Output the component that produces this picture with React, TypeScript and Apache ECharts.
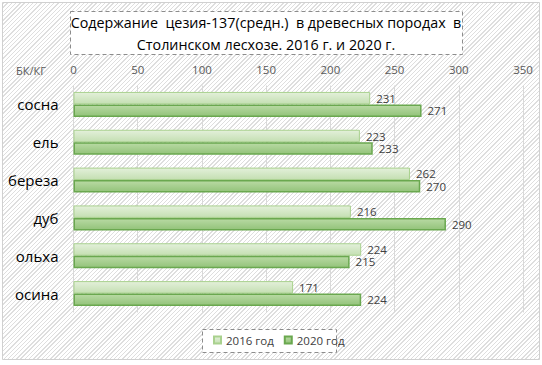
import React, { useEffect, useRef } from "react";
import * as echarts from "echarts";

const categories = ["сосна", "ель", "береза", "дуб", "ольха", "осина"];
const values2016 = [231, 223, 262, 216, 224, 171];
const values2020 = [271, 233, 270, 290, 215, 224];
const seriesNames = ["2016 год", "2020 год"];
const axisTicks = { min: 0, max: 350, interval: 50 };
const titleLines = [
  "Содержание  цезия-137(средн.)  в древесных породах  в",
  "Столинском лесхозе. 2016 г. и 2020 г.",
];
const unitLabel = "БК/КГ";

const FONT = "'Open Sans', 'DejaVu Sans', sans-serif";

export default function App() {
  const ref = useRef<HTMLDivElement>(null);
  useEffect(() => {
    if (!ref.current) return;
    const chart = echarts.init(ref.current, undefined, { renderer: "svg" });
    const lightFill = new echarts.graphic.LinearGradient(0, 0, 0, 1, [
      { offset: 0, color: "#e3f0da" },
      { offset: 1, color: "#c4dfb2" },
    ]);
    const darkFill = new echarts.graphic.LinearGradient(0, 0, 0, 1, [
      { offset: 0, color: "#b9daa4" },
      { offset: 1, color: "#93c37a" },
    ]);
    chart.setOption({
      animation: false,
      backgroundColor: "transparent",
      textStyle: { fontFamily: FONT },
      grid: { left: 73.5, right: 19, top: 85.5, bottom: 52.5, containLabel: false },
      legend: {
        data: seriesNames,
        left: 213,
        top: 334,
        padding: 0,
        icon: "rect",
        itemWidth: 7,
        itemHeight: 7,
        itemGap: 10,
        textStyle: { fontSize: 11.5, color: "#404040", fontFamily: FONT },
      },
      xAxis: {
        type: "value",
        position: "top",
        min: axisTicks.min,
        max: axisTicks.max,
        interval: axisTicks.interval,
        axisLine: { show: false },
        axisTick: { show: false },
        axisLabel: { fontSize: 11.5, color: "#595959", margin: 10, fontFamily: FONT },
        splitLine: { lineStyle: { color: "#d9d9d9", width: 1 } },
      },
      yAxis: {
        type: "category",
        data: categories,
        inverse: true,
        axisLine: { show: false },
        axisTick: { show: false },
        axisLabel: { fontSize: 15, color: "#000000", margin: 15, fontFamily: FONT },
        splitLine: { show: false },
      },
      graphic: [
        {
          type: "rect",
          z: -10,
          silent: true,
          shape: { x: 2.5, y: 2.5, width: 537, height: 357 },
          style: { fill: "transparent", stroke: "#d0d0d0", lineWidth: 1 },
        },
        {
          type: "rect",
          z: 1,
          shape: { x: 70.5, y: 11.5, width: 392, height: 43 },
          style: { fill: "#ffffff", stroke: "#8c8c8c", lineWidth: 1, lineDash: [4, 3] },
        },
        {
          type: "text",
          z: 2,
          x: 266,
          y: 33,
          style: {
            text: titleLines.join("\n"),
            align: "center",
            verticalAlign: "middle",
            fontSize: 14.3,
            lineHeight: 22,
            fill: "#000000",
            fontFamily: FONT,
          },
        },
        {
          type: "rect",
          z: 1,
          shape: { x: 202.5, y: 329.5, width: 134, height: 23 },
          style: { fill: "#ffffff", stroke: "#8c8c8c", lineWidth: 1, lineDash: [4, 3] },
        },
        {
          type: "text",
          z: 2,
          x: 31,
          y: 70,
          style: {
            text: unitLabel,
            align: "center",
            verticalAlign: "middle",
            fontSize: 11,
            fill: "#595959",
            fontFamily: FONT,
          },
        },
      ],
      series: [
        {
          name: seriesNames[0],
          type: "bar",
          data: values2016,
          barGap: "0%",
          barCategoryGap: "34%",
          itemStyle: { color: lightFill, borderColor: "#a9d18e", borderWidth: 1 },
          label: {
            show: true,
            position: "right",
            distance: 6,
            fontSize: 11.5,
            color: "#404040",
            fontFamily: FONT,
          },
        },
        {
          name: seriesNames[1],
          type: "bar",
          data: values2020,
          barGap: "0%",
          barCategoryGap: "34%",
          itemStyle: { color: darkFill, borderColor: "#6aa84f", borderWidth: 1.5 },
          label: {
            show: true,
            position: "right",
            distance: 6,
            fontSize: 11.5,
            color: "#404040",
            fontFamily: FONT,
          },
        },
      ],
    });
    return () => chart.dispose();
  }, []);

  return (
    <div
      style={{
        position: "fixed",
        left: 0,
        top: 0,
        width: 542,
        height: 365,
        background: "#ffffff",
        overflow: "hidden",
      }}
    >
      <div
        style={{
          position: "absolute",
          left: 3,
          top: 3,
          width: 536,
          height: 356,
          background:
            "repeating-linear-gradient(-45deg, #dedede 0px, #dedede 1px, #ffffff 1px, #ffffff 3px)",
        }}
      />
      <div ref={ref} style={{ position: "absolute", left: 0, top: 0, width: 542, height: 365 }} />
    </div>
  );
}
